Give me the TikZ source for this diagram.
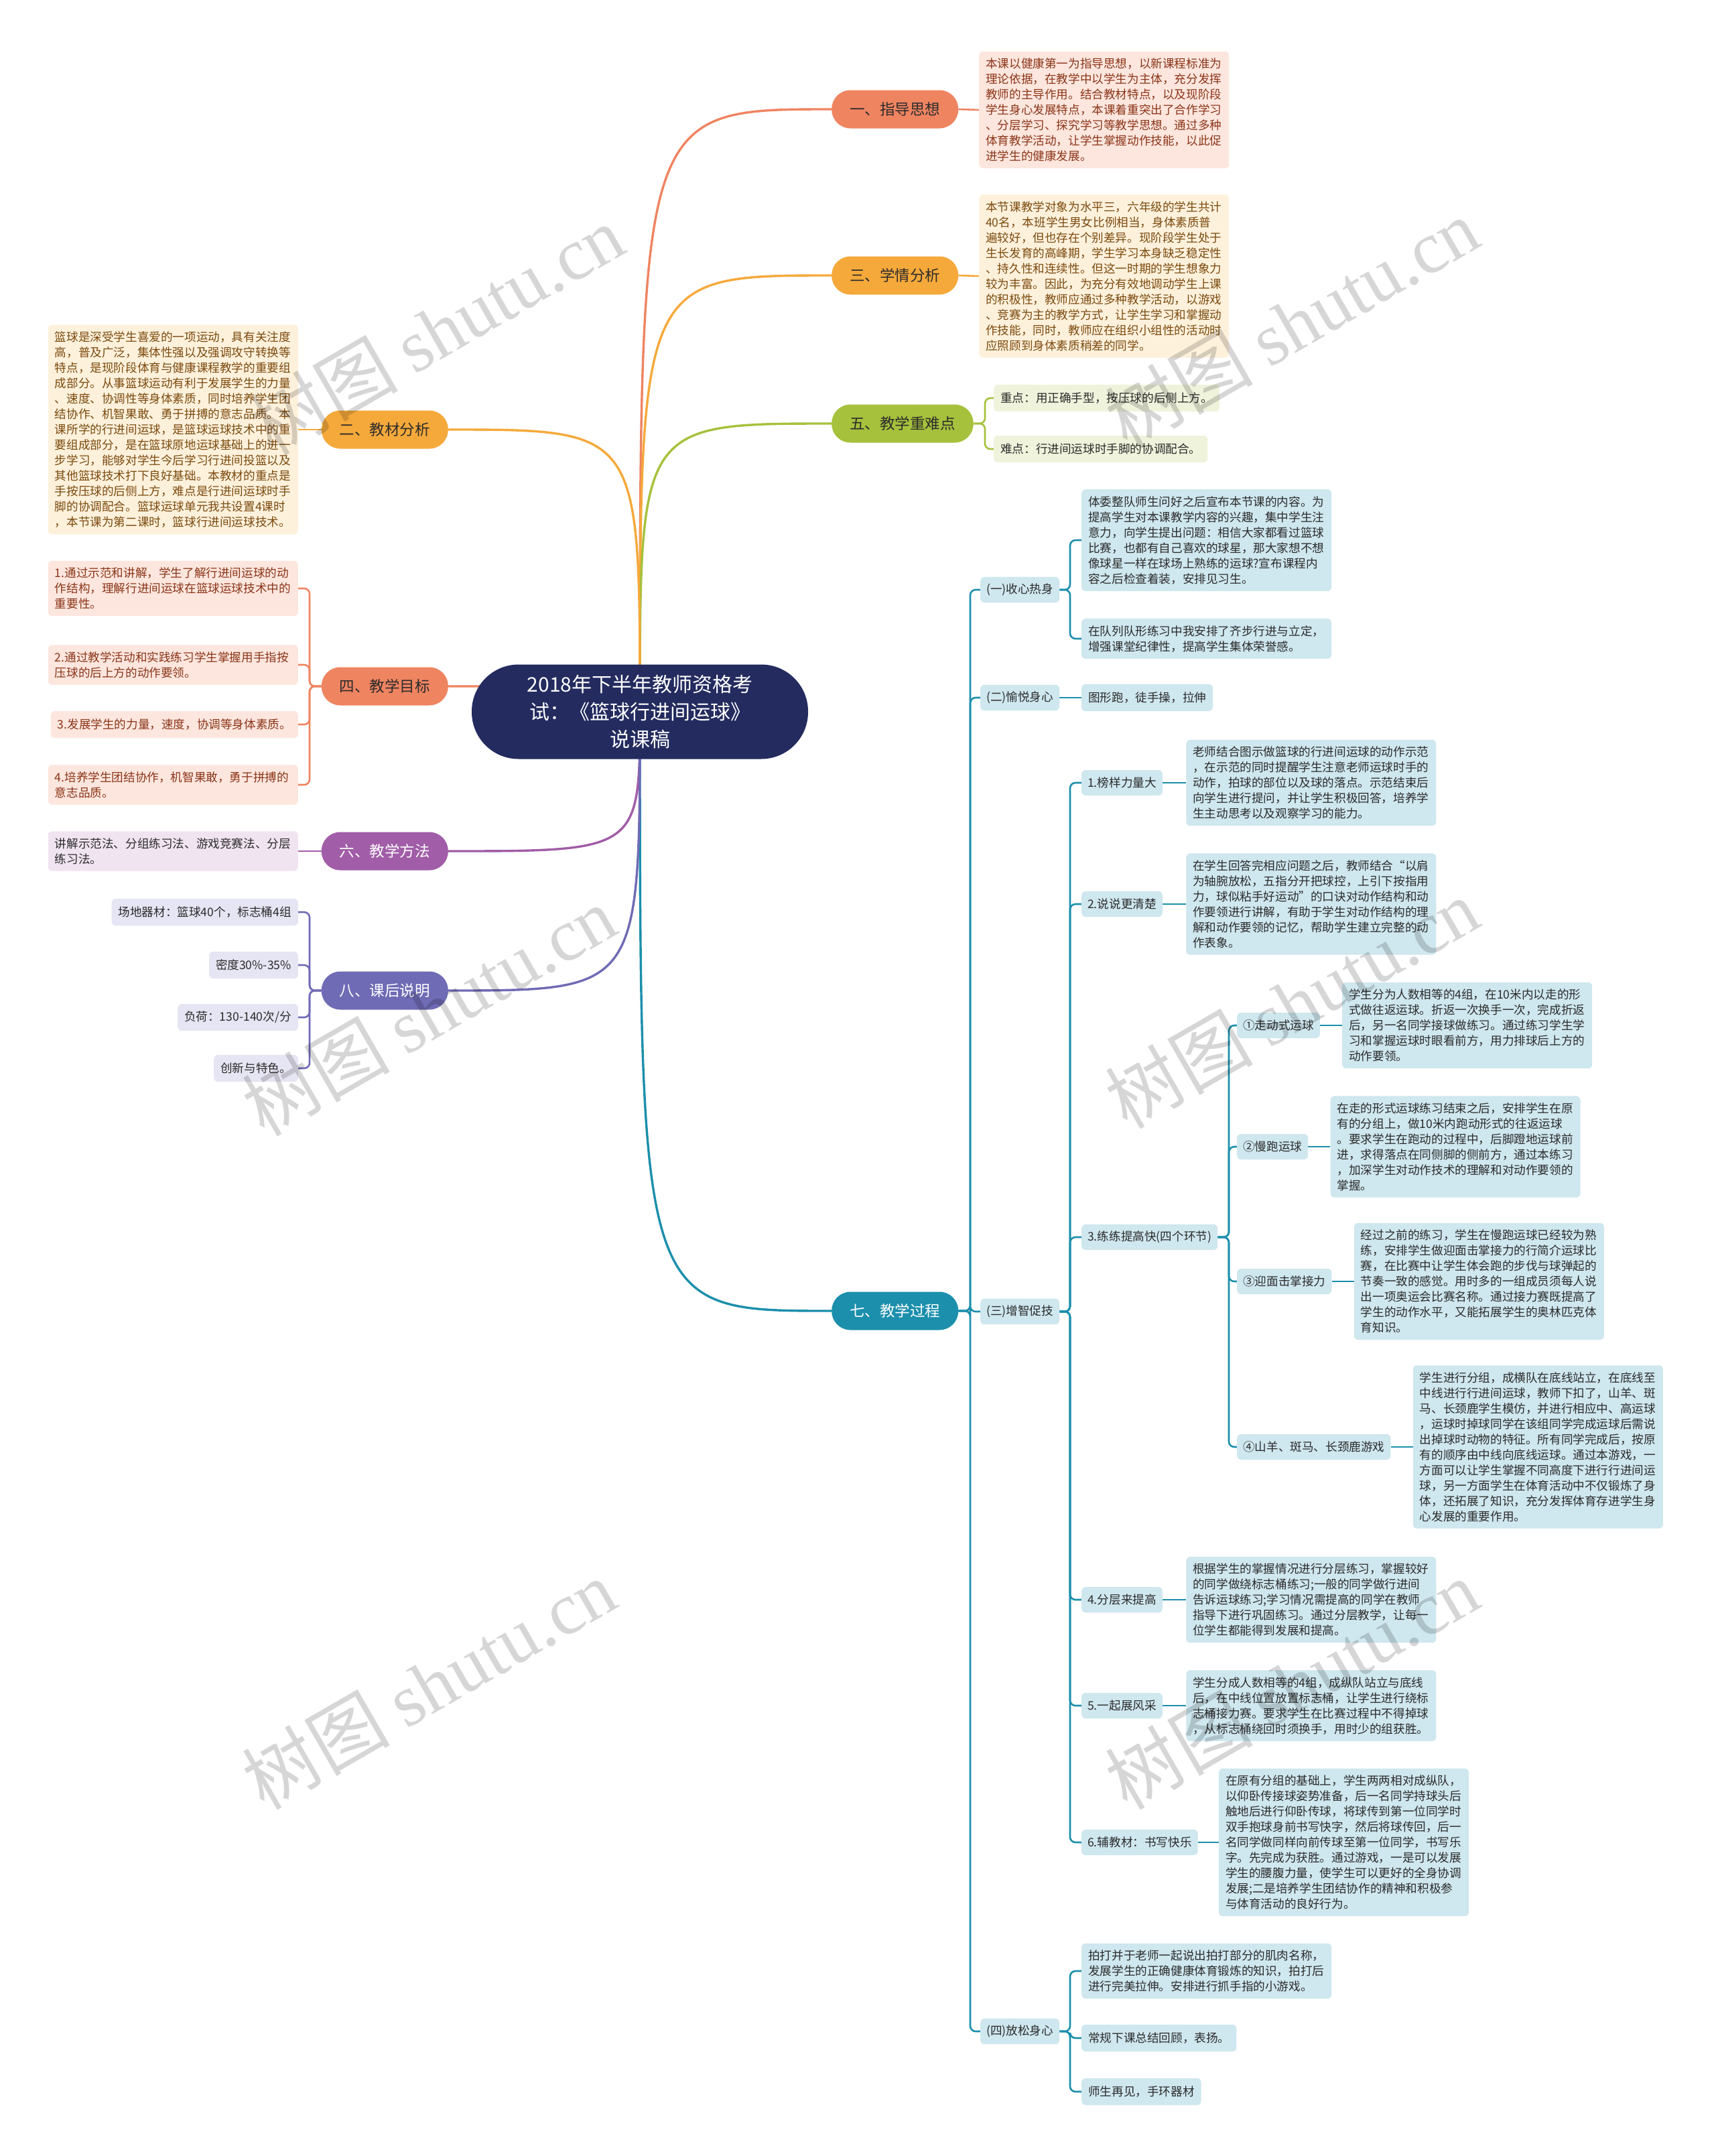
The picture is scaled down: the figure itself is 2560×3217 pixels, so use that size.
\documentclass[tikz,border=0pt]{standalone}
\usepackage{fontspec}
\setmainfont{Noto Sans CJK SC}
\newfontfamily\wmlatin{Liberation Serif}
\usetikzlibrary{backgrounds,positioning}
\newcommand{\lffont}{\fontsize{17.6pt}{23pt}\selectfont}
\newcommand{\pillfont}{\fontsize{22.5pt}{27pt}\selectfont}
\definecolor{cCoral}{HTML}{EF8461}
\definecolor{cOrange}{HTML}{F5A93B}
\definecolor{cOlive}{HTML}{A6C13C}
\definecolor{cTeal}{HTML}{1C8FAC}
\definecolor{cPurple}{HTML}{A15DA7}
\definecolor{cSlate}{HTML}{6F6BB5}
\definecolor{cNavy}{HTML}{232B5F}
\definecolor{fCoral}{HTML}{FDE6DE}
\definecolor{fOrange}{HTML}{FEF1DC}
\definecolor{fOlive}{HTML}{EFF3DC}
\definecolor{fTeal}{HTML}{CFE7EF}
\definecolor{fPurple}{HTML}{F1E4F1}
\definecolor{fSlate}{HTML}{E6E5F3}
\definecolor{tCoral}{HTML}{8A3518}
\definecolor{tOrange}{HTML}{7A4A0E}
\definecolor{tDark}{HTML}{2B2B2B}
\tikzset{
  lf/.style={rounded corners=6pt, inner xsep=10pt, inner ysep=10pt, minimum height=40pt, font=\lffont, align=left},
  wd/.style={text width=353pt},
  lfcoral/.style={lf, fill=fCoral, text=tCoral},
  lforange/.style={lf, fill=fOrange, text=tOrange},
  lfolive/.style={lf, fill=fOlive, text=tDark},
  lfteal/.style={lf, fill=fTeal, text=tDark},
  lfpurple/.style={lf, fill=fPurple, text=tDark},
  lfslate/.style={lf, fill=fSlate, text=tDark},
  subnode/.style={lfteal, inner xsep=9pt, minimum height=38pt},
  pill/.style={rounded corners=28pt, minimum height=57pt, inner xsep=27pt, font=\pillfont},
  mainline/.style={line width=3.4pt},
  brline/.style={line width=2.6pt, rounded corners=8pt},
  wmark/.style={rotate=30, text=black, opacity=0.16, font=\fontsize{110pt}{110pt}\selectfont}
}
\begin{document}
\begin{tikzpicture}[x=1pt,y=-1pt]
\useasboundingbox (0,0) rectangle (2560,3217);

% central
\node[fill=cNavy, text=white, rounded corners=70pt, minimum width=502pt, minimum height=141pt, align=center, font=\fontsize{30pt}{41pt}\selectfont] (root) at (955,1062) {2018年下半年教师资格考\\试：《篮球行进间运球》\\说课稿};

% level 1
\node[pill, fill=cCoral, text=tDark, anchor=west] (n1) at (1241,163) {一、指导思想};
\node[pill, fill=cOrange, text=tDark, anchor=west] (n3) at (1241,411) {三、学情分析};
\node[pill, fill=cOlive, text=tDark, anchor=west] (n5) at (1241,632) {五、教学重难点};
\node[pill, fill=cTeal, text=white, anchor=west] (n7) at (1241,1956) {七、教学过程};
\node[pill, fill=cOrange, text=tDark, anchor=east] (n2) at (669,641) {二、教材分析};
\node[pill, fill=cCoral, text=tDark, anchor=east] (n4) at (669,1024) {四、教学目标};
\node[pill, fill=cPurple, text=white, anchor=east] (n6) at (669,1270) {六、教学方法};
\node[pill, fill=cSlate, text=white, anchor=east] (n8) at (669,1478) {八、课后说明};

% right leaves
\node[lfcoral, wd, anchor=west] (l1) at (1461,164) {本课以健康第一为指导思想，以新课程标准为\\理论依据，在教学中以学生为主体，充分发挥\\教师的主导作用。结合教材特点，以及现阶段\\学生身心发展特点，本课着重突出了合作学习\\、分层学习、探究学习等教学思想。通过多种\\体育教学活动，让学生掌握动作技能，以此促\\进学生的健康发展。};
\node[lforange, wd, anchor=west] (l3) at (1461,412) {本节课教学对象为水平三，六年级的学生共计\\40名，本班学生男女比例相当，身体素质普\\遍较好，但也存在个别差异。现阶段学生处于\\生长发育的高峰期，学生学习本身缺乏稳定性\\、持久性和连续性。但这一时期的学生想象力\\较为丰富。因此，为充分有效地调动学生上课\\的积极性，教师应通过多种教学活动，以游戏\\、竞赛为主的教学方式，让学生学习和掌握动\\作技能，同时，教师应在组织小组性的活动时\\应照顾到身体素质稍差的同学。};
\node[lfolive, anchor=west] (l5a) at (1483,594) {重点：用正确手型，按压球的后侧上方。};
\node[lfolive, anchor=west] (l5b) at (1483,670) {难点：行进间运球时手脚的协调配合。};

% left leaves
\node[lforange, wd, anchor=east] (l2) at (445,641) {篮球是深受学生喜爱的一项运动，具有关注度\\高，普及广泛，集体性强以及强调攻守转换等\\特点，是现阶段体育与健康课程教学的重要组\\成部分。从事篮球运动有利于发展学生的力量\\、速度、协调性等身体素质，同时培养学生团\\结协作、机智果敢、勇于拼搏的意志品质。本\\课所学的行进间运球，是篮球运球技术中的重\\要组成部分，是在篮球原地运球基础上的进一\\步学习，能够对学生今后学习行进间投篮以及\\其他篮球技术打下良好基础。本教材的重点是\\手按压球的后侧上方，难点是行进间运球时手\\脚的协调配合。篮球运球单元我共设置4课时\\，本节课为第二课时，篮球行进间运球技术。};
\node[lfcoral, wd, anchor=east] (l4a) at (445,878) {1.通过示范和讲解，学生了解行进间运球的动\\作结构，理解行进间运球在篮球运球技术中的\\重要性。};
\node[lfcoral, wd, anchor=east] (l4b) at (445,992) {2.通过教学活动和实践练习学生掌握用手指按\\压球的后上方的动作要领。};
\node[lfcoral, anchor=east] (l4c) at (445,1081) {3.发展学生的力量，速度，协调等身体素质。};
\node[lfcoral, wd, anchor=east] (l4d) at (445,1171) {4.培养学生团结协作，机智果敢，勇于拼搏的\\意志品质。};
\node[lfpurple, wd, anchor=east] (l6) at (445,1270) {讲解示范法、分组练习法、游戏竞赛法、分层\\练习法。};
\node[lfslate, anchor=east] (l8a) at (445,1361) {场地器材：篮球40个，标志桶4组};
\node[lfslate, anchor=east] (l8b) at (445,1440) {密度30\%-35\%};
\node[lfslate, anchor=east] (l8c) at (445,1518) {负荷：130-140次/分};
\node[lfslate, anchor=east] (l8d) at (445,1594) {创新与特色。};

% branch 7
\node[subnode, anchor=west] (s1) at (1463,880) {(一)收心热身};
\node[subnode, anchor=west] (s2) at (1463,1041) {(二)愉悦身心};
\node[subnode, anchor=west] (s3) at (1463,1957) {(三)增智促技};
\node[subnode, anchor=west] (s4) at (1463,3031) {(四)放松身心};

\node[lfteal, wd, anchor=west] (s1a) at (1614,806) {体委整队师生问好之后宣布本节课的内容。为\\提高学生对本课教学内容的兴趣，集中学生注\\意力，向学生提出问题：相信大家都看过篮球\\比赛，也都有自己喜欢的球星，那大家想不想\\像球星一样在球场上熟练的运球?宣布课程内\\容之后检查着装，安排见习生。};
\node[lfteal, wd, anchor=west] (s1b) at (1614,953) {在队列队形练习中我安排了齐步行进与立定，\\增强课堂纪律性，提高学生集体荣誉感。};
\node[lfteal, anchor=west] (s2a) at (1614,1041) {图形跑，徒手操，拉伸};

\node[subnode, anchor=west] (t1) at (1614,1168) {1.榜样力量大};
\node[subnode, anchor=west] (t2) at (1614,1349) {2.说说更清楚};
\node[subnode, anchor=west] (t3) at (1614,1846) {3.练练提高快(四个环节)};
\node[subnode, anchor=west] (t4) at (1614,2387) {4.分层来提高};
\node[subnode, anchor=west] (t5) at (1614,2545) {5.一起展风采};
\node[subnode, anchor=west] (t6) at (1614,2749) {6.辅教材：书写快乐};

\node[lfteal, wd, right=35pt of t1] (t1a) {老师结合图示做篮球的行进间运球的动作示范\\，在示范的同时提醒学生注意老师运球时手的\\动作，拍球的部位以及球的落点。示范结束后\\向学生进行提问，并让学生积极回答，培养学\\生主动思考以及观察学习的能力。};
\node[lfteal, wd, right=35pt of t2] (t2a) {在学生回答完相应问题之后，教师结合“以肩\\为轴腕放松，五指分开把球控，上引下按指用\\力，球似粘手好运动”的口诀对动作结构和动\\作要领进行讲解，有助于学生对动作结构的理\\解和动作要领的记忆，帮助学生建立完整的动\\作表象。};

\node[subnode, anchor=west] (u1) at (1846,1530) {①走动式运球};
\node[subnode, anchor=west] (u2) at (1846,1711) {②慢跑运球};
\node[subnode, anchor=west] (u3) at (1846,1912) {③迎面击掌接力};
\node[subnode, anchor=west] (u4) at (1846,2159) {④山羊、斑马、长颈鹿游戏};

\node[lfteal, wd, right=33pt of u1] (u1a) {学生分为人数相等的4组，在10米内以走的形\\式做往返运球。折返一次换手一次，完成折返\\后，另一名同学接球做练习。通过练习学生学\\习和掌握运球时眼看前方，用力排球后上方的\\动作要领。};
\node[lfteal, wd, right=33pt of u2] (u2a) {在走的形式运球练习结束之后，安排学生在原\\有的分组上，做10米内跑动形式的往返运球\\。要求学生在跑动的过程中，后脚蹬地运球前\\进，求得落点在同侧脚的侧前方，通过本练习\\，加深学生对动作技术的理解和对动作要领的\\掌握。};
\node[lfteal, wd, right=33pt of u3] (u3a) {经过之前的练习，学生在慢跑运球已经较为熟\\练，安排学生做迎面击掌接力的行简介运球比\\赛，在比赛中让学生体会跑的步伐与球弹起的\\节奏一致的感觉。用时多的一组成员须每人说\\出一项奥运会比赛名称。通过接力赛既提高了\\学生的动作水平，又能拓展学生的奥林匹克体\\育知识。};
\node[lfteal, wd, right=33pt of u4] (u4a) {学生进行分组，成横队在底线站立，在底线至\\中线进行行进间运球，教师下扣了，山羊、斑\\马、长颈鹿学生模仿，并进行相应中、高运球\\，运球时掉球同学在该组同学完成运球后需说\\出掉球时动物的特征。所有同学完成后，按原\\有的顺序由中线向底线运球。通过本游戏，一\\方面可以让学生掌握不同高度下进行行进间运\\球，另一方面学生在体育活动中不仅锻炼了身\\体，还拓展了知识，充分发挥体育存进学生身\\心发展的重要作用。};

\node[lfteal, wd, right=35pt of t4] (t4a) {根据学生的掌握情况进行分层练习，掌握较好\\的同学做绕标志桶练习;一般的同学做行进间\\告诉运球练习;学习情况需提高的同学在教师\\指导下进行巩固练习。通过分层教学，让每一\\位学生都能得到发展和提高。};
\node[lfteal, wd, right=35pt of t5] (t5a) {学生分成人数相等的4组，成纵队站立与底线\\后，在中线位置放置标志桶，让学生进行绕标\\志桶接力赛。要求学生在比赛过程中不得掉球\\，从标志桶绕回时须换手，用时少的组获胜。};
\node[lfteal, wd, right=31pt of t6] (t6a) {在原有分组的基础上，学生两两相对成纵队，\\以仰卧传接球姿势准备，后一名同学持球头后\\触地后进行仰卧传球，将球传到第一位同学时\\双手抱球身前书写快字，然后将球传回，后一\\名同学做同样向前传球至第一位同学，书写乐\\字。先完成为获胜。通过游戏，一是可以发展\\学生的腰腹力量，使学生可以更好的全身协调\\发展;二是培养学生团结协作的精神和积极参\\与体育活动的良好行为。};

\node[lfteal, wd, anchor=west] (s4a) at (1614,2941) {拍打并于老师一起说出拍打部分的肌肉名称，\\发展学生的正确健康体育锻炼的知识，拍打后\\进行完美拉伸。安排进行抓手指的小游戏。};
\node[lfteal, anchor=west] (s4b) at (1614,3041) {常规下课总结回顾，表扬。};
\node[lfteal, anchor=west] (s4c) at (1614,3121) {师生再见，手环器材};

% bracket coordinates
\coordinate (b5) at (1470,632);
\coordinate (b7) at (1448,1956);
\coordinate (bs1) at (1597,880);
\coordinate (bs3) at (1597,1957);
\coordinate (bs4) at (1597,3031);
\coordinate (bt3) at (1834,1846);
\coordinate (b4) at (462,1024);
\coordinate (b8) at (462,1478);

\begin{pgfonlayer}{background}
\fill[white] (0,0) rectangle (2560,3217);
% main curves
\draw[mainline, cCoral] (root.center) .. controls (root.center |- n1.west) .. (n1.west);
\draw[mainline, cOrange] (root.center) .. controls (root.center |- n3.west) .. (n3.west);
\draw[mainline, cOlive] (root.center) .. controls (root.center |- n5.west) .. (n5.west);
\draw[mainline, cTeal] (root.center) .. controls (root.center |- n7.west) .. (n7.west);
\draw[mainline, cOrange] (root.center) .. controls (root.center |- n2.east) .. (n2.east);
\draw[mainline, cCoral] (root.center) .. controls (root.center |- n4.east) .. (n4.east);
\draw[mainline, cPurple] (root.center) .. controls (root.center |- n6.east) .. (n6.east);
\draw[mainline, cSlate] (root.center) .. controls (root.center |- n8.east) .. (n8.east);
% simple links
\draw[brline, cCoral] (n1.east) -- (l1.west);
\draw[brline, cOrange] (n3.east) -- (l3.west);
\draw[brline, cOrange] (n2.west) -- (l2.east);
\draw[brline, cPurple] (n6.west) -- (l6.east);
% brackets
\foreach \c in {l5a,l5b} \draw[brline, cOlive] (n5.east) -- (b5 |- n5.east) |- (\c.west);
\foreach \c in {s1,s2,s3,s4} \draw[brline, cTeal] (n7.east) -- (b7 |- n7.east) |- (\c.west);
\foreach \c in {s1a,s1b} \draw[brline, cTeal] (s1.east) -- (bs1 |- s1.east) |- (\c.west);
\draw[brline, cTeal] (s2.east) -- (s2a.west);
\foreach \c in {t1,t2,t3,t4,t5,t6} \draw[brline, cTeal] (s3.east) -- (bs3 |- s3.east) |- (\c.west);
\foreach \c in {s4a,s4b,s4c} \draw[brline, cTeal] (s4.east) -- (bs4 |- s4.east) |- (\c.west);
\foreach \c in {u1,u2,u3,u4} \draw[brline, cTeal] (t3.east) -- (bt3 |- t3.east) |- (\c.west);
\foreach \p/\c in {t1/t1a,t2/t2a,t4/t4a,t5/t5a,t6/t6a,u1/u1a,u2/u2a,u3/u3a,u4/u4a} \draw[brline, cTeal] (\p.east) -- (\c.west);
\foreach \c in {l4a,l4b,l4c,l4d} \draw[brline, cCoral] (n4.west) -- (b4 |- n4.west) |- (\c.east);
\foreach \c in {l8a,l8b,l8c,l8d} \draw[brline, cSlate] (n8.west) -- (b8 |- n8.west) |- (\c.east);
\end{pgfonlayer}

% watermarks
\foreach \x/\y in {652/492, 1928/482, 640/1508, 1928/1497, 640/2513, 1928/2513}
  \node[wmark] at (\x,\y) {树图 {\wmlatin shutu.cn}};
\end{tikzpicture}
\end{document}
